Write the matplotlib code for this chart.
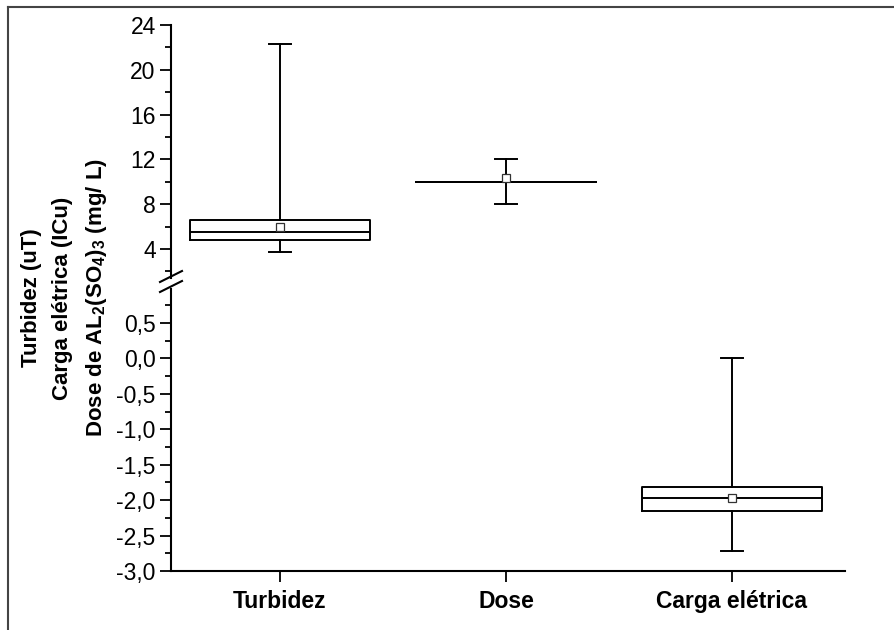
import matplotlib
matplotlib.use('Agg')
import matplotlib.pyplot as plt
from matplotlib.lines import Line2D
from matplotlib.ticker import MultipleLocator, FuncFormatter

plt.rcParams['font.family'] = ['Liberation Sans', 'DejaVu Sans']
plt.rcParams['mathtext.fontset'] = 'custom'
plt.rcParams['mathtext.rm'] = 'Liberation Sans'
plt.rcParams['mathtext.bf'] = 'Liberation Sans:bold'

# dados
categorias = ['Turbidez', 'Dose', 'Carga elétrica']
minimo = [3.7, 8.0, -2.72]
q1 = [4.8, 10.0, -2.15]
mediana = [5.5, 10.0, -1.97]
q3 = [6.63, 10.0, -1.82]
maximo = [22.3, 12.0, 0.0]
media = [5.95, 10.3, -1.97]

stats = []
for i in range(len(categorias)):
    stats.append(dict(label=categorias[i], whislo=minimo[i], q1=q1[i], med=mediana[i],
                      q3=q3[i], whishi=maximo[i], mean=media[i], fliers=[]))

W, H = 895, 630
fig = plt.figure(figsize=(W / 100, H / 100), dpi=100)

def frac(x0, y0, x1, y1):
    # pixel box -> figure fraction [left, bottom, width, height]
    return [x0 / W, 1 - y1 / H, (x1 - x0) / W, (y1 - y0) / H]

ax_top = fig.add_axes(frac(171, 25, 845, 278))
ax_bot = fig.add_axes(frac(171, 289, 845, 571))

lw = 1.4
props = dict(
    boxprops=dict(color='black', linewidth=lw),
    medianprops=dict(color='black', linewidth=lw),
    whiskerprops=dict(color='black', linewidth=lw),
    capprops=dict(color='black', linewidth=lw),
    meanprops=dict(marker='s', markerfacecolor='white', markeredgecolor='#333333',
                   markersize=5.5, markeredgewidth=0.9),
)

for ax in (ax_top, ax_bot):
    ax.bxp(stats, positions=[1, 2, 3], widths=0.8, capwidths=0.1, showmeans=True,
           showfliers=False, manage_ticks=False, **props)
    ax.set_xlim(0.518, 3.5)
    ax.spines['top'].set_visible(False)
    ax.spines['right'].set_visible(False)
    ax.spines['left'].set_linewidth(1.5)
    ax.tick_params(axis='y', which='major', direction='out', length=8, width=1.3,
                   labelsize=16.5, pad=3)
    ax.tick_params(axis='y', which='minor', direction='out', length=4.5, width=1.3)

ax_top.set_ylim(1.41, 24)
ax_top.yaxis.set_major_locator(MultipleLocator(4))
ax_top.yaxis.set_minor_locator(MultipleLocator(2))
ax_top.set_yticks([4, 8, 12, 16, 20, 24])
ax_top.spines['bottom'].set_visible(False)
ax_top.set_xticks([])

ax_bot.set_ylim(-3.0, 0.98)
ax_bot.yaxis.set_major_locator(MultipleLocator(0.5))
ax_bot.yaxis.set_minor_locator(MultipleLocator(0.25))
ax_bot.yaxis.set_major_formatter(FuncFormatter(lambda v, p: f'{v:.1f}'.replace('.', ',')))
ax_bot.spines['bottom'].set_linewidth(1.5)
ax_bot.set_xticks([1, 2, 3])
ax_bot.set_xticklabels(categorias, fontweight='bold', fontsize=16.5)
ax_bot.tick_params(axis='x', direction='out', length=8, width=1.3, pad=6)

# marcas de quebra do eixo
for y0 in (282, 292):
    fig.add_artist(Line2D([160 / W, 182 / W], [1 - y0 / H, 1 - (y0 - 11) / H],
                          color='black', linewidth=1.5))

# rotulo do eixo y (tres linhas)
fig.text(65 / W, 1 - 298 / H,
         'Turbidez (uT)\nCarga elétrica (ICu)\nDose de AL$_\\mathbf{2}$(SO$_\\mathbf{4}$)$_\\mathbf{3}$ (mg/ L)',
         rotation=90, ha='center', va='center', fontsize=16, fontweight='bold',
         linespacing=1.62, multialignment='center')

# moldura da figura
fig.add_artist(Line2D([8 / W, 8 / W], [0, 1 - 7 / H], color='#444444', linewidth=1.5))
fig.add_artist(Line2D([8 / W, 1], [1 - 7 / H, 1 - 7 / H], color='#444444', linewidth=1.5))

fig.savefig('out.png', dpi=100)
